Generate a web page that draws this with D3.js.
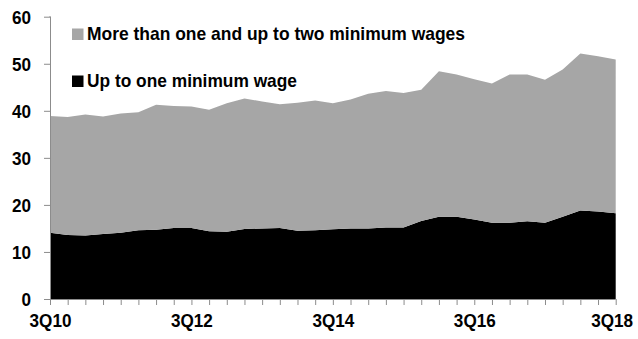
<!DOCTYPE html>
<html><head><meta charset="utf-8">
<script src="https://cdn.jsdelivr.net/npm/d3@7"></script>
<style>
html,body{margin:0;padding:0;background:#fff;}
text{font-family:"Liberation Sans",Arial,sans-serif;font-weight:bold;fill:#000;}
</style></head>
<body><svg id="c" width="638" height="339"></svg>
<script>
const quarters = ["3Q10","4Q10","1Q11","2Q11","3Q11","4Q11","1Q12","2Q12","3Q12","4Q12","1Q13","2Q13","3Q13","4Q13","1Q14","2Q14","3Q14","4Q14","1Q15","2Q15","3Q15","4Q15","1Q16","2Q16","3Q16","4Q16","1Q17","2Q17","3Q17","4Q17","1Q18","2Q18","3Q18"];
const upToOne = [14.1,13.6,13.5,13.8,14.1,14.6,14.7,15.1,15.1,14.4,14.3,14.9,15.0,15.1,14.5,14.6,14.8,15.0,15.0,15.2,15.2,16.6,17.5,17.5,16.9,16.2,16.2,16.5,16.2,17.5,18.8,18.6,18.2];
const oneToTwo = [24.8,25.1,25.7,25.0,25.3,25.1,26.6,25.9,25.8,25.8,27.3,27.7,27.0,26.3,27.2,27.6,26.8,27.4,28.6,29.0,28.6,27.9,30.9,30.2,29.8,29.6,31.5,31.2,30.4,31.3,33.4,33.0,32.7];
const seriesNames = ["Up to one minimum wage","More than one and up to two minimum wages"];
const yTicks = [0,10,20,30,40,50,60];
const xTickLabels = ["3Q10","3Q12","3Q14","3Q16","3Q18"];
const colors = ["#000000","#A6A6A6"];

const svg = d3.select("#c");
const x = d3.scalePoint().domain(quarters).range([50, 615.7]);
const y = d3.scaleLinear().domain([0,60]).range([299, 16.7]);

const rows = quarters.map((q,i)=>({q, a: upToOne[i], b: oneToTwo[i]}));
const stacked = d3.stack().keys(["a","b"])(rows);
const area = d3.area().x(d=>x(d.data.q)).y0(d=>y(d[0])).y1(d=>y(d[1]));

svg.append("g").selectAll("path").data(stacked).join("path")
  .attr("d", area).attr("fill", (d,i)=>colors[i]);

const squeeze = 0.9;
function narrow(sel){
  sel.each(function(){
    const w = this.getComputedTextLength();
    d3.select(this).attr("textLength", w*squeeze).attr("lengthAdjust","spacingAndGlyphs");
  });
}

// Y axis
const ya = svg.append("g").attr("transform","translate(50,0)")
  .call(d3.axisLeft(y).tickValues(yTicks).tickSize(6).tickPadding(13).tickFormat(d3.format("d")));
ya.select(".domain").attr("stroke","#8c8c8c").attr("d","M-0.5,16.7H0.5V299");
ya.selectAll(".tick line").attr("stroke","#8c8c8c");
ya.selectAll(".tick text").style("font-size","19px").attr("dy","0.36em").call(narrow);

// X axis
const xa = svg.append("g").attr("transform","translate(0,299)")
  .call(d3.axisBottom(x).tickSize(6).tickPadding(9).tickFormat(d=>xTickLabels.includes(d)?d:""));
xa.select(".domain").attr("stroke","#8c8c8c").attr("d","M50,0.5H615.7");
xa.selectAll(".tick line").attr("stroke","#8c8c8c");
xa.selectAll(".tick text").style("font-size","19px").attr("dy","0.71em").call(narrow);
xa.selectAll(".tick text").filter(d=>d===quarters[quarters.length-1]).attr("dx","-4");

// Legend
const legend = [
  {name: seriesNames[1], color: colors[1], y: 40, w: 378},
  {name: seriesNames[0], color: colors[0], y: 87, w: 210}
];
const lg = svg.append("g");
legend.forEach(l=>{
  lg.append("rect").attr("x",72).attr("y",l.y-11.5).attr("width",11.5).attr("height",11.5).attr("fill",l.color);
  lg.append("text").attr("x",87).attr("y",l.y).style("font-size","19px").text(l.name)
    .attr("textLength",l.w).attr("lengthAdjust","spacingAndGlyphs");
});
</script></body></html>
